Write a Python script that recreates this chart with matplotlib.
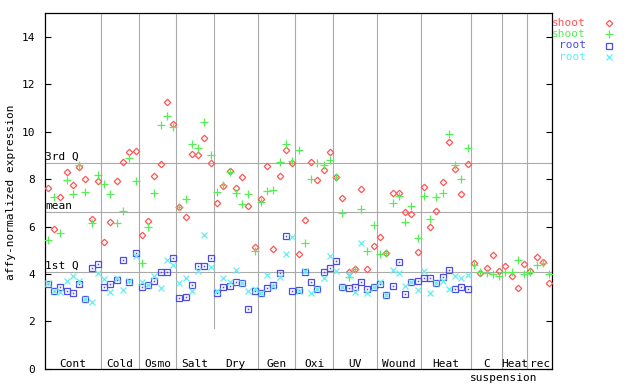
import numpy as np
import matplotlib
matplotlib.use("Agg")
import matplotlib.pyplot as plt
from matplotlib.lines import Line2D

plt.rcParams['font.family'] = ['DejaVu Sans Mono']

groups = ["Cont", "Cold", "Osmo", "Salt", "Dry", "Gen", "Oxi", "UV",
          "Wound", "Heat", "C", "Heat", "rec"]
group_sizes = [9, 6, 6, 6, 7, 6, 6, 7, 7, 8, 5, 4, 4]

shoot_a = [7.62, 5.90, 7.24, 8.30, 7.75, 8.51, 8.00, 6.32, 7.92,
           5.34, 6.19, 7.92, 8.72, 9.16, 9.18,
           5.64, 6.23, 8.13, 8.64, 11.25, 10.34,
           6.82, 6.40, 9.06, 9.01, 9.73, 8.69,
           6.99, 7.71, 8.34, 7.62, 8.09, 6.86, 5.14,
           7.16, 8.55, 5.04, 8.13, 9.23, 8.68,
           4.83, 6.27, 8.72, 7.96, 8.38, 9.14,
           8.09, 7.20, 4.10, 4.20, 7.58, 4.20, 5.17,
           5.55, 4.87, 7.41, 7.41, 6.61, 6.52, 4.92,
           7.66, 5.97, 6.65, 7.87, 9.56, 8.42, 7.37, 8.64,
           4.45, 4.03, 4.24, 4.79, 4.11,
           4.33, 3.90, 3.40, 4.41,
           4.11, 4.71, 4.50, 3.61]

shoot_b = [5.42, 7.24, 5.72, 7.97, 7.37, 8.58, 7.47, 6.14, 8.17,
           7.79, 7.37, 6.14, 6.65, 8.91, 7.93,
           4.45, 5.97, 7.41, 10.28, 10.68, 10.20,
           6.82, 7.16, 9.48, 9.31, 10.41, 9.01,
           7.45, 7.75, 8.30, 7.41, 6.95, 7.37, 4.96,
           7.03, 7.50, 7.54, 8.72, 9.48, 8.76,
           9.23, 5.30, 8.00, 8.68, 8.59, 8.80,
           8.09, 6.57, 3.88, 4.20, 6.73, 4.96, 6.06,
           4.83, 4.87, 6.99, 7.28, 6.19, 6.86, 5.51,
           7.28, 6.31, 7.24, 7.41, 9.90, 8.59, 8.00, 9.31,
           4.37, 4.07, 4.03, 3.99, 3.90,
           4.07, 4.07, 4.58, 3.99,
           4.07, 4.37, 4.45, 3.99]

root_a = [3.57, 3.27, 3.44, 3.27, 3.19, 3.57, 2.93, 4.24, 4.41,
          3.44, 3.57, 3.73, 4.58, 3.66, 4.87,
          3.44, 3.52, 3.69, 4.07, 4.07, 4.66,
          2.97, 3.02, 3.52, 4.33, 4.33, 4.66,
          3.19, 3.44, 3.48, 3.65, 3.61, 2.51, 3.27,
          3.19, 3.40, 3.52, 4.03, 5.59, 3.27,
          3.31, 4.07, 3.65, 3.35, 4.07, 4.24,
          4.54, 3.44, 3.40, 3.44, 3.65, 3.35, 3.44,
          3.57, 3.10, 3.48, 4.50, 3.14, 3.65, 3.69,
          3.82, 3.82, 3.61, 3.86, 4.16, 3.35, 3.44, 3.35]

root_b = [3.60, 3.27, 3.23, 3.69, 3.90, 3.69, 2.93, 2.81, 4.03,
          3.78, 3.23, 3.82, 3.31, 3.69, 4.76,
          3.65, 3.52, 3.90, 3.40, 4.58, 4.37,
          3.61, 3.82, 3.27, 4.11, 5.64, 4.28,
          3.27, 3.82, 3.65, 4.16, 3.61, 3.27, 3.35,
          3.19, 3.95, 3.48, 3.86, 4.83, 5.55,
          3.27, 4.11, 3.19, 3.35, 3.82, 4.75,
          4.11, 3.44, 3.95, 3.23, 5.30, 3.19, 3.44,
          3.65, 3.10, 4.16, 4.03, 3.48, 3.65, 3.31,
          4.11, 3.19, 3.61, 3.69, 3.35, 3.90, 3.82, 3.95]

q1, mean, q3 = 4.07, 6.61, 8.68

red, green, blue, cyan = '#ff5555', '#55ee55', '#4c4ce8', '#66eeee'
grid_col = '#aaaaaa'

fig = plt.figure(figsize=(6.4, 3.84), dpi=100)
ax = fig.add_axes([44.6 / 640, 1 - 368.7 / 384, (552.4 - 44.6) / 640, (368.7 - 13.3) / 384])

n = len(shoot_a)
ax.set_xlim(-0.5, n - 0.5)
ax.set_ylim(0, 15)

# group dividers
bounds = np.cumsum(group_sizes)[:-1] - 0.5
for i, b in enumerate(bounds):
    ymin = 1.7 / 15 if groups[i] == "Salt" else 0
    ax.axvline(b, ymin=ymin, color=grid_col, lw=0.8, zorder=1)

# reference lines
for val, lab in [(q3, "3rd Q"), (mean, "mean"), (q1, "1st Q")]:
    ax.axhline(val, color=grid_col, lw=0.8, zorder=1)
    ax.text(-0.4, val + 0.05, lab, fontsize=8, va='bottom', ha='left')

mk_red = dict(marker='D', ms=3.3, mfc='none', mec=red, mew=0.9)
mk_green = dict(marker='+', ms=5.2, mec=green, mew=0.9)
mk_blue = dict(marker='s', ms=4.3, mfc='none', mec=blue, mew=0.9)
mk_cyan = dict(marker='x', ms=3.8, mec=cyan, mew=0.9)

xs = np.arange(n)
xr = np.arange(len(root_a))
ax.plot(xs, shoot_a, ls='none', zorder=3, **mk_red)
ax.plot(xs, shoot_b, ls='none', zorder=4, **mk_green)
ax.plot(xr, root_a, ls='none', zorder=5, **mk_blue)
ax.plot(xr, root_a, ls='none', marker='s', ms=1.1, mfc=blue, mec=blue, mew=0, zorder=5)
ax.plot(xr, root_b, ls='none', zorder=6, **mk_cyan)

# group labels
starts = np.concatenate([[0], np.cumsum(group_sizes)[:-1]])
for g, s, size in zip(groups, starts, group_sizes):
    ax.text(s - 0.5 + size / 2, 0.2, g, fontsize=8, ha='center', va='center')
ax.text(starts[10] - 0.7, -0.4, "suspension", fontsize=8, ha='left', va='center', clip_on=False)

ax.set_xticks([])
ax.set_yticks(range(0, 16, 2))
ax.tick_params(axis='y', direction='in', length=4.3, width=0.8, labelsize=8, pad=7,
               right=True)
for sp in ax.spines.values():
    sp.set_linewidth(0.9)

fig.text(11 / 640, 1 - 192 / 384, "affy-normalized expression", rotation=90,
         fontsize=8, ha='center', va='center')

# legend
leg = [("shoot", red, mk_red), ("shoot", green, mk_green),
       ("root", blue, mk_blue), ("root", cyan, mk_cyan)]
for i, (lab, col, mk) in enumerate(leg):
    yy = 1 - (23.3 + 11.1 * i) / 384
    fig.text(586 / 640, yy, lab, color=col, fontsize=8, ha='right', va='center')
    fig.add_artist(Line2D([609 / 640], [yy], transform=fig.transFigure, ls='none', **mk))

fig.savefig("out.png", dpi=100)
